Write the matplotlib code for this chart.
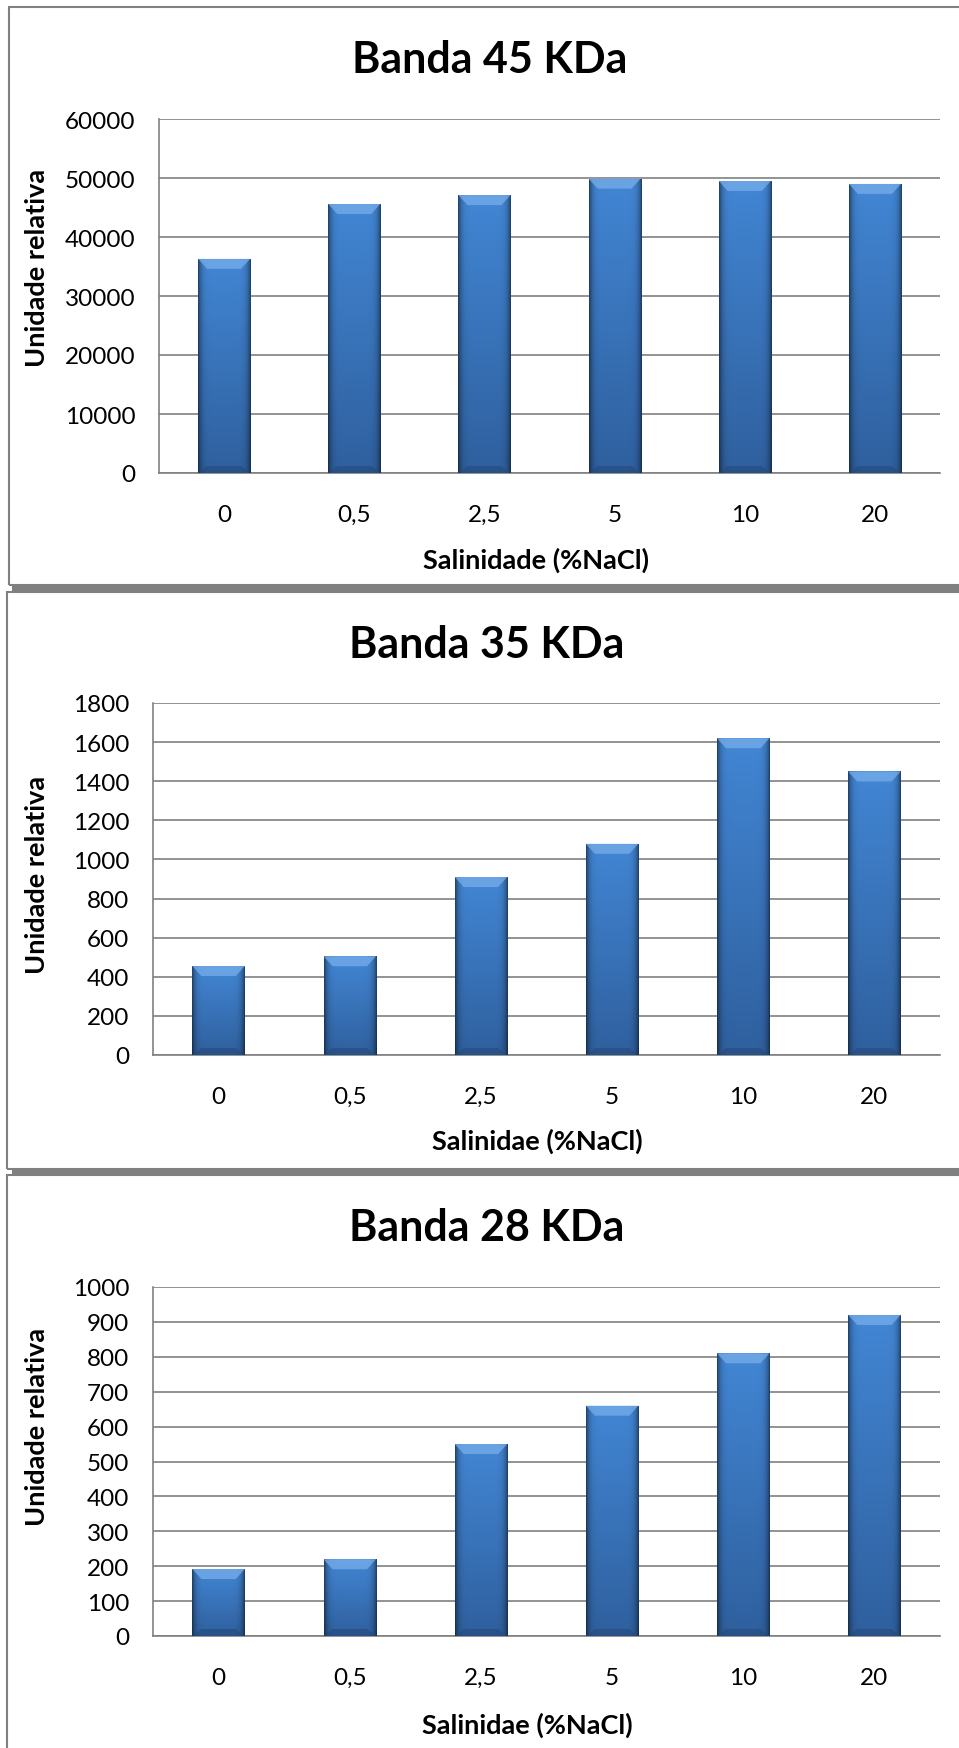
import matplotlib
matplotlib.use("Agg")
import matplotlib.pyplot as plt
import numpy as np
from matplotlib.patches import Rectangle, Polygon

plt.rcParams['font.family'] = ['Lato', 'DejaVu Sans']

# dados
categorias = ["0", "0,5", "2,5", "5", "10", "20"]
banda45 = [36300, 45600, 47100, 49900, 49500, 49000]
banda35 = [455, 505, 910, 1080, 1620, 1450]
banda28 = [192, 220, 550, 660, 810, 920]

titulos = ["Banda 45 KDa", "Banda 35 KDa", "Banda 28 KDa"]
xlabels = ["Salinidade (%NaCl)", "Salinidae (%NaCl)", "Salinidae (%NaCl)"]
ylabel = "Unidade relativa"
ymax = [60000, 1800, 1000]
ystep = [10000, 200, 100]

W, H = 959, 1749
fig = plt.figure(figsize=(W/100, H/100), dpi=100)
fig.patch.set_facecolor("white")

gray = "#808080"

def fx(x):
    return x / W

def fy(y):
    return 1 - y / H

# molduras dos paineis (em pixels)
paineis = [(9, 8, 586), (7, 593, 1170), (7, 1176, 1760)]
for (x0, t, b) in paineis:
    fig.patches.append(Rectangle((fx(x0), fy(b)), fx(W + 20 - x0), (b - t) / H,
                                 transform=fig.transFigure, fill=False,
                                 edgecolor=gray, lw=1.5, zorder=0))
for (t, b) in [(586, 593), (1169, 1176)]:
    fig.patches.append(Rectangle((fx(12), fy(b)), fx(W), (b - t) / H,
                                 transform=fig.transFigure, facecolor=gray,
                                 edgecolor="none", zorder=1))

# eixos: esquerda, topo, direita, base (pixels)
caixas = [(159, 120, 940, 474), (153, 704, 940, 1056), (153, 1288, 940, 1637)]
titulo_y = [60, 645, 1228]
titulo_x = [490, 487, 487]
xlabel_x = [536, 537, 527]
xlabel_y = [560, 1141, 1725]
ylabel_y = [268, 875, 1427]

top_col = np.array([0x42, 0x86, 0xd4]) / 255
bot_col = np.array([0x2f, 0x60, 0x9e]) / 255


def desenha_barras(ax, vals, ax_h_px, ax_w_px):
    x = np.arange(len(vals))
    largura = 0.4
    bars = ax.bar(x, vals, width=largura, color="#3a74bd", zorder=3)
    ylim = ax.get_ylim()
    dy_px = (ylim[1] - ylim[0]) / ax_h_px
    dx_px = len(vals) / ax_w_px
    u = np.linspace(0, 1, 60)
    edge = 1 - 0.5 * np.abs(2 * u - 1) ** 8
    for rect in bars:
        x0 = rect.get_x()
        x1 = x0 + rect.get_width()
        h = rect.get_height()
        v = np.linspace(0, 1, 120)[:, None, None]
        img = (top_col * (1 - v) + bot_col * v) * edge[None, :, None]
        im = ax.imshow(img, extent=[x0, x1, 0, h], origin="upper",
                       aspect="auto", zorder=4, interpolation="bilinear")
        im.set_clip_path(rect)
        bev = 10 * dy_px
        bdx = 9 * dx_px
        ax.add_patch(Polygon([(x0, h), (x1, h), (x1 - bdx, h - bev), (x0 + bdx, h - bev)],
                             closed=True, facecolor="#78aeea", edgecolor="none",
                             alpha=0.75, zorder=5))
        bev2 = 7 * dy_px
        ax.add_patch(Polygon([(x0, 0), (x1, 0), (x1 - bdx, bev2), (x0 + bdx, bev2)],
                             closed=True, facecolor="#24497a", edgecolor="none",
                             alpha=0.6, zorder=5))
    ax.set_xlim(-0.5, len(vals) - 0.5)
    ax.set_ylim(*ylim)


dados = [banda45, banda35, banda28]
for i, vals in enumerate(dados):
    l, t, r, b = caixas[i]
    ax = fig.add_axes([fx(l), fy(b), (r - l) / W, (b - t) / H])
    ax.set_ylim(0, ymax[i])
    ax.set_yticks(np.arange(0, ymax[i] + 1, ystep[i]))
    ax.yaxis.grid(True, color=gray, lw=1.2, zorder=0)
    ax.set_axisbelow(True)
    desenha_barras(ax, vals, b - t, r - l)
    ax.set_xticks(np.arange(len(vals)))
    ax.set_xticklabels(categorias)
    for s in ["top", "right"]:
        ax.spines[s].set_visible(False)
    for s in ["left", "bottom"]:
        ax.spines[s].set_color(gray)
        ax.spines[s].set_linewidth(1.2)
    ax.tick_params(axis="y", length=0, pad=17, labelsize=17.5, colors="black")
    ax.tick_params(axis="x", length=0, pad=22, labelsize=17.5, colors="black")

    fig.text(fx(titulo_x[i]), fy(titulo_y[i]), titulos[i], ha="center", va="center",
             fontsize=31, fontweight="bold")
    fig.text(fx(xlabel_x[i]), fy(xlabel_y[i]), xlabels[i], ha="center", va="center",
             fontsize=19.5, fontweight="bold")
    fig.text(fx(37), fy(ylabel_y[i]), ylabel, ha="center", va="center",
             rotation=90, fontsize=19.5, fontweight="bold")

fig.savefig("out.png", dpi=100)
